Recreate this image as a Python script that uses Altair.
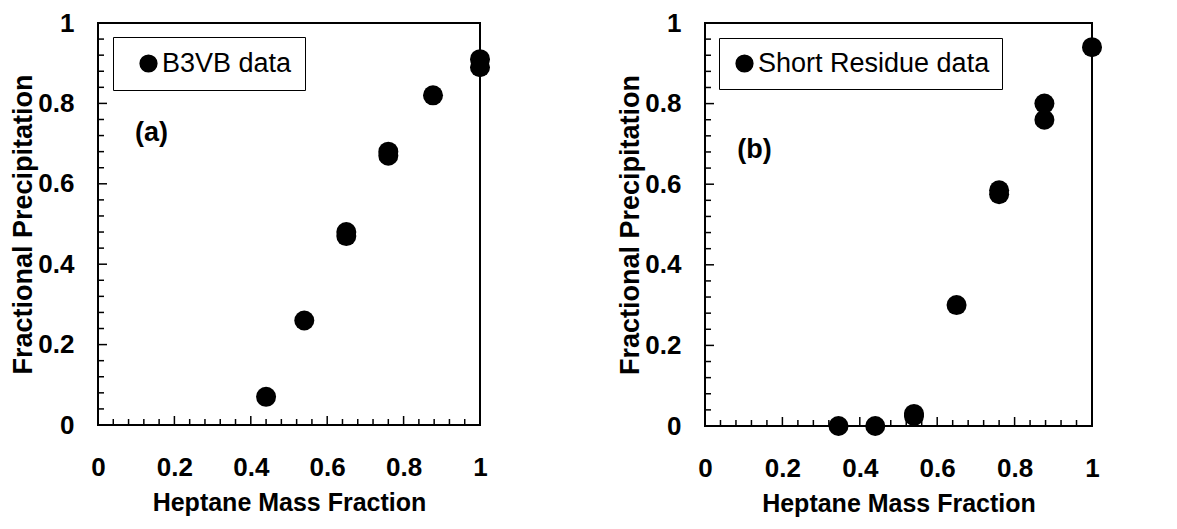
import altair as alt
import pandas as pd

# ---- data ----
a_x = [0.44, 0.54, 0.65, 0.65, 0.76, 0.76, 0.877, 1.0, 1.0]
a_y = [0.07, 0.26, 0.47, 0.48, 0.67, 0.68, 0.82, 0.89, 0.91]
a_name = "B3VB data"

b_x = [0.345, 0.44, 0.54, 0.54, 0.65, 0.76, 0.76, 0.877, 0.877, 1.0]
b_y = [0.0, 0.0, 0.025, 0.03, 0.30, 0.575, 0.585, 0.76, 0.80, 0.94]
b_name = "Short Residue data"

major_ticks = [0, 0.2, 0.4, 0.6, 0.8, 1.0]
minor_ticks = [0.04, 0.08, 0.12, 0.16, 0.24, 0.28, 0.32, 0.36, 0.44, 0.48,
               0.52, 0.56, 0.64, 0.68, 0.72, 0.76, 0.84, 0.88, 0.92, 0.96]

x_title = "Heptane Mass Fraction"
y_title = "Fractional Precipitation"

FONT = "Liberation Sans"


def panel(xs, ys, name, tag, tag_x, tag_y, width, height, leg_x, leg_y,
          leg_pad, sym_off, lab_off):
    xaxis = alt.Axis(values=major_ticks, format="~g", title=x_title,
                     ticks=False, domain=False, grid=False, labelPadding=29,
                     labelFont=FONT, labelFontWeight="bold", labelFontSize=26,
                     labelColor="black", titleFont=FONT, titleFontSize=25,
                     titleFontWeight="bold", titleColor="black",
                     titlePadding=10, labelFlush=False, labelOverlap=False)
    yaxis = alt.Axis(values=major_ticks, format="~g", title=y_title,
                     ticks=False, domain=False, grid=False, labelPadding=24,
                     labelFont=FONT, labelFontWeight="bold", labelFontSize=26,
                     labelColor="black", titleFont=FONT, titleFontSize=27,
                     titleFontWeight="bold", titleColor="black",
                     titlePadding=0, labelFlush=False, labelOverlap=False)
    xs_ = alt.Scale(domain=[0, 1], nice=False, zero=False)
    ys_ = alt.Scale(domain=[0, 1], nice=False, zero=False)

    df = pd.DataFrame({"x": xs, "y": ys, "series": [name] * len(xs)})
    pts = alt.Chart(df).mark_point(filled=True, shape="circle", size=400,
                                   opacity=1).encode(
        x=alt.X("x:Q", scale=xs_, axis=xaxis),
        y=alt.Y("y:Q", scale=ys_, axis=yaxis),
        color=alt.Color("series:N", scale=alt.Scale(range=["black"]),
                        legend=alt.Legend(
                            title=None, orient="none", legendX=leg_x,
                            legendY=leg_y, strokeColor="black",
                            padding=leg_pad, symbolOffset=sym_off,
                            symbolType="circle", symbolSize=280,
                            symbolFillColor="black", symbolStrokeColor="black",
                            labelFont=FONT, labelFontSize=27,
                            labelColor="black", labelOffset=lab_off,
                            labelLimit=400, fillColor="white")),
    )

    xmaj = alt.Chart(pd.DataFrame({"x": major_ticks})).mark_rule(
        color="black", strokeWidth=1.5).encode(
        x=alt.X("x:Q", scale=xs_, axis=xaxis),
        y=alt.value(height), y2=alt.value(height - 9))
    xmin = alt.Chart(pd.DataFrame({"x": minor_ticks})).mark_rule(
        color="black", strokeWidth=1.5).encode(
        x=alt.X("x:Q", scale=xs_, axis=xaxis),
        y=alt.value(height), y2=alt.value(height - 6))
    ymaj = alt.Chart(pd.DataFrame({"y": major_ticks})).mark_rule(
        color="black", strokeWidth=1.5).encode(
        y=alt.Y("y:Q", scale=ys_, axis=yaxis),
        x=alt.value(0), x2=alt.value(9))
    ymin = alt.Chart(pd.DataFrame({"y": minor_ticks})).mark_rule(
        color="black", strokeWidth=1.5).encode(
        y=alt.Y("y:Q", scale=ys_, axis=yaxis),
        x=alt.value(0), x2=alt.value(6))

    lab = alt.Chart(pd.DataFrame({"x": [tag_x], "y": [tag_y], "t": [tag]})
                    ).mark_text(font=FONT, fontWeight="bold", fontSize=27,
                                color="black").encode(
        x=alt.X("x:Q", scale=xs_, axis=xaxis),
        y=alt.Y("y:Q", scale=ys_, axis=yaxis),
        text="t:N")

    return alt.layer(xmaj, xmin, ymaj, ymin, lab, pts).properties(
        width=width, height=height)


left = panel(a_x, a_y, a_name, "(a)", 0.14, 0.726, 382, 402, 15, 14, 13, 9, 0)
right = panel(b_x, b_y, b_name, "(b)", 0.128, 0.685, 387, 403, 14, 15, 12, 0, 0)

chart = alt.hconcat(left, right, spacing=124).resolve_scale(
    color="independent").resolve_legend(color="independent").properties(
    padding={"left": 0, "top": 1, "right": 0, "bottom": 0},
    background="white").configure_view(stroke="black", strokeWidth=2)

chart.save("out.html", embed_options={"renderer": "svg", "actions": False})
